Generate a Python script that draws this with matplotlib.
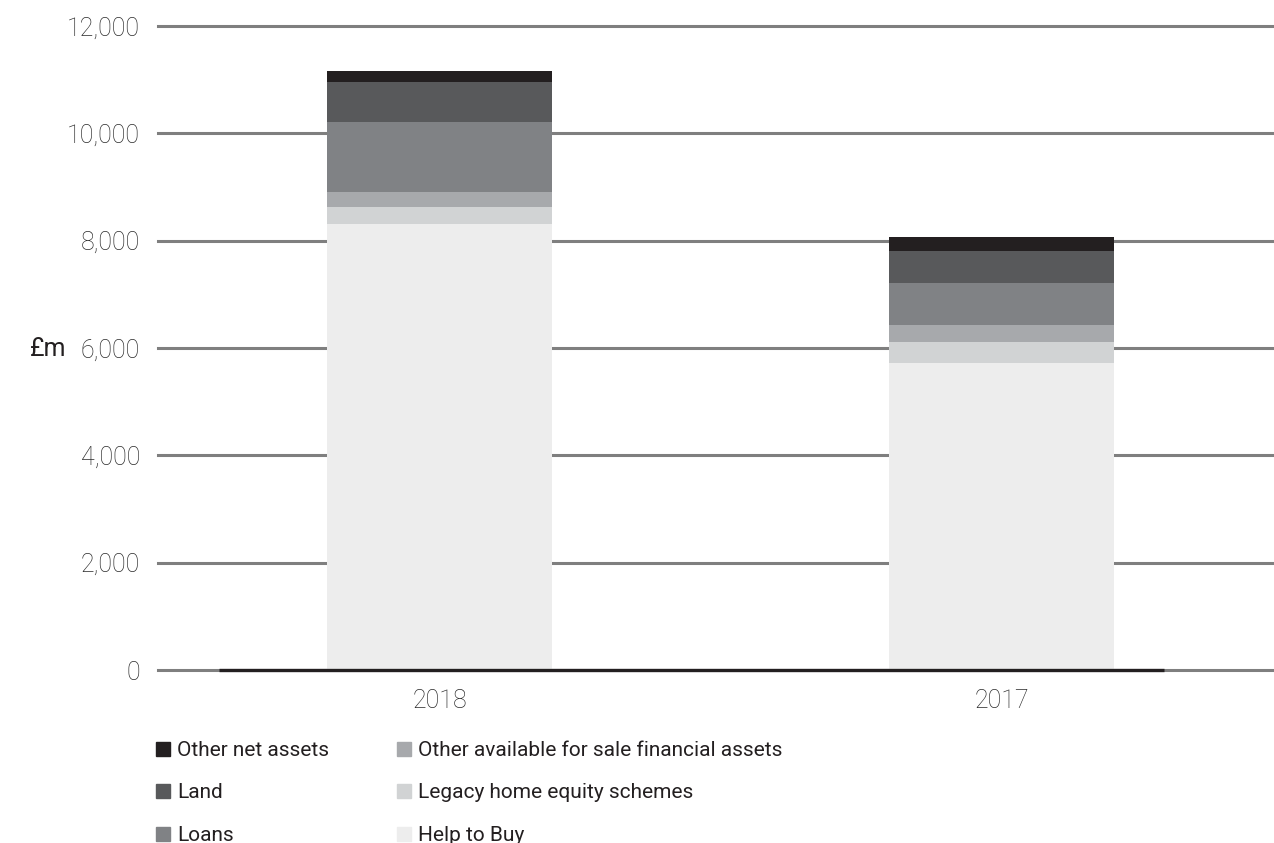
import matplotlib
matplotlib.use("Agg")
import matplotlib.pyplot as plt
from matplotlib.patches import Rectangle
import numpy as np

plt.rcParams['font.family'] = ['Roboto', 'DejaVu Sans']

years = ["2018", "2017"]
series = ["Help to Buy", "Legacy home equity schemes",
          "Other available for sale financial assets", "Loans", "Land",
          "Other net assets"]
help_to_buy = [8310, 5720]
legacy = [317, 391]
other_afs = [279, 317]
loans = [1305, 783]
land = [745, 596]
other_net = [205, 266]
values = [help_to_buy, legacy, other_afs, loans, land, other_net]
colors = ["#ededed", "#d1d3d4", "#a7a9ac", "#808285", "#58595b", "#231f20"]

W, H = 1274, 843
fig = plt.figure(figsize=(W / 100, H / 100), dpi=100)
ax = fig.add_axes([158/W, 1 - 670/H, 1 - 158/W, (670 - 26)/H])

x = np.arange(len(years))
bottom = np.zeros(len(years))
for vals, col in zip(values, colors):
    ax.bar(x, vals, 0.4, bottom=bottom, color=col, zorder=3)
    bottom += np.array(vals)

ax.set_xlim(-0.501, 1.485)
ax.set_ylim(0, 12000)
ticks = np.arange(0, 12001, 2000)
ax.set_yticks(ticks)
ax.set_yticklabels(["{:,}".format(t) for t in ticks])
for t in ticks:
    ax.axhline(t, color="#7f7f7f", lw=2.2, zorder=1, clip_on=False)
ax.plot([-0.392, 1.289], [0, 0], color="#231f20", lw=2.4, zorder=4,
        solid_capstyle="butt", clip_on=False)

ax.set_xticks(x)
ax.set_xticklabels(years)
for s in ax.spines.values():
    s.set_visible(False)
ax.tick_params(length=0, labelsize=18, labelcolor="#2a2a2a")
ax.tick_params(axis="y", pad=13)
ax.tick_params(axis="x", pad=14)
for lab in ax.get_xticklabels() + ax.get_yticklabels():
    lab.set_fontweight("light")

fig.text(30/W, 1 - 349/H, "£m", fontsize=18, color="#231f20",
         va="center", ha="left")

# legend laid out by hand: two columns, three rows
order = [5, 4, 3, 2, 1, 0]
col_x = [156, 397]
row_base = [756, 798, 841]
for k, i in enumerate(order):
    cx = col_x[k // 3]
    by = row_base[k % 3]
    fig.add_artist(Rectangle((cx/W, 1 - by/H), 14/W, 14/H,
                             transform=fig.transFigure, color=colors[i]))
    fig.text((cx + 21)/W, 1 - by/H, series[i], fontsize=15,
             color="#231f20", va="baseline", ha="left")

fig.savefig("out.png", dpi=100)
